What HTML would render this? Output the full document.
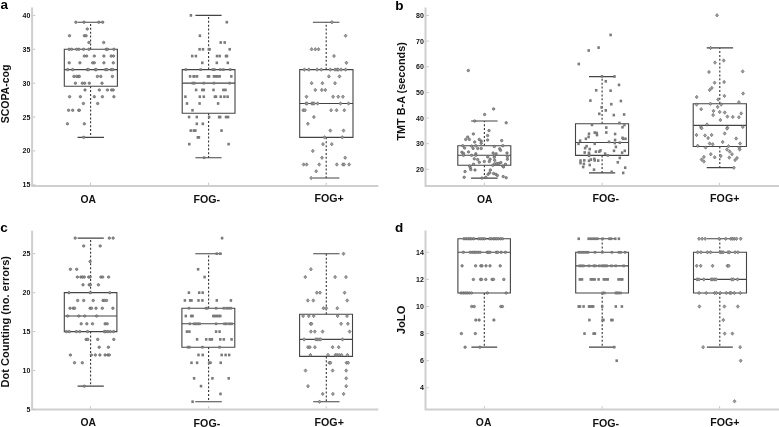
<!DOCTYPE html>
<html><head><meta charset="utf-8"><style>
html,body{margin:0;padding:0;background:#fff;}
body{width:779px;height:427px;overflow:hidden;}
svg{display:block;filter:blur(0.3px);}
text{font-family:"Liberation Sans",sans-serif;font-weight:bold;fill:#111;}
.tl{font-size:7px;text-anchor:end;fill:#111;}
.cl{font-size:11px;text-anchor:middle;}
.yt{text-anchor:middle;}
.pl{font-size:13.5px;fill:#000;}
.ax{fill:none;stroke:#cfcfcf;stroke-width:2;}
.tk{fill:none;stroke:#bdbdbd;stroke-width:0.9;}
.bx{fill:none;stroke:#444;stroke-width:1.1;}
.wh{fill:none;stroke:#333;stroke-width:1.1;stroke-dasharray:2 1.9;}
.mo circle{fill:#939393;stroke:#5a5a5a;stroke-width:0.6;}
.ms rect{fill:#7a7a7a;}
.md path{fill:#9c9c9c;stroke:#585858;stroke-width:0.55;}
</style></head><body>
<svg width="779" height="427" viewBox="0 0 779 427">
<path class="ax" d="M32.1 7.5V185.9H378.3"/>
<path class="ax" d="M425.5 7.5V186H779"/>
<path class="ax" d="M32.1 230.8V409.5H378.3"/>
<path class="ax" d="M425.5 230.5V409.5H779"/>
<path class="tk" d="M33.1 184.8h2.2"/>
<text class="tl" x="30.4" y="187.3">15</text>
<path class="tk" d="M33.1 150.92h2.2"/>
<text class="tl" x="30.4" y="153.42">20</text>
<path class="tk" d="M33.1 117.04h2.2"/>
<text class="tl" x="30.4" y="119.54">25</text>
<path class="tk" d="M33.1 83.16h2.2"/>
<text class="tl" x="30.4" y="85.66">30</text>
<path class="tk" d="M33.1 49.28h2.2"/>
<text class="tl" x="30.4" y="51.78">35</text>
<path class="tk" d="M33.1 15.4h2.2"/>
<text class="tl" x="30.4" y="17.9">40</text>
<path class="tk" d="M426.5 169.28h2.2"/>
<text class="tl" x="423.8" y="171.78">20</text>
<path class="tk" d="M426.5 143.65h2.2"/>
<text class="tl" x="423.8" y="146.15">30</text>
<path class="tk" d="M426.5 118.02h2.2"/>
<text class="tl" x="423.8" y="120.52">40</text>
<path class="tk" d="M426.5 92.39h2.2"/>
<text class="tl" x="423.8" y="94.89">50</text>
<path class="tk" d="M426.5 66.76h2.2"/>
<text class="tl" x="423.8" y="69.26">60</text>
<path class="tk" d="M426.5 41.13h2.2"/>
<text class="tl" x="423.8" y="43.63">70</text>
<path class="tk" d="M426.5 15.5h2.2"/>
<text class="tl" x="423.8" y="18">80</text>
<path class="tk" d="M33.1 409.5h2.2"/>
<text class="tl" x="30.4" y="412">5</text>
<path class="tk" d="M33.1 370.55h2.2"/>
<text class="tl" x="30.4" y="373.05">10</text>
<path class="tk" d="M33.1 331.6h2.2"/>
<text class="tl" x="30.4" y="334.1">15</text>
<path class="tk" d="M33.1 292.65h2.2"/>
<text class="tl" x="30.4" y="295.15">20</text>
<path class="tk" d="M33.1 253.7h2.2"/>
<text class="tl" x="30.4" y="256.2">25</text>
<path class="tk" d="M426.5 387.8h2.2"/>
<text class="tl" x="423.8" y="390.3">4</text>
<path class="tk" d="M426.5 360.7h2.2"/>
<text class="tl" x="423.8" y="363.2">6</text>
<path class="tk" d="M426.5 333.6h2.2"/>
<text class="tl" x="423.8" y="336.1">8</text>
<path class="tk" d="M426.5 306.5h2.2"/>
<text class="tl" x="423.8" y="309">10</text>
<path class="tk" d="M426.5 279.4h2.2"/>
<text class="tl" x="423.8" y="281.9">12</text>
<path class="tk" d="M426.5 252.3h2.2"/>
<text class="tl" x="423.8" y="254.8">14</text>
<path class="tk" d="M90.5 184.9v-2.2"/>
<path class="tk" d="M208.5 184.9v-2.2"/>
<path class="tk" d="M326.2 184.9v-2.2"/>
<path class="tk" d="M484.4 185v-2.2"/>
<path class="tk" d="M602.2 185v-2.2"/>
<path class="tk" d="M719.6 185v-2.2"/>
<path class="tk" d="M90.4 408.5v-2.2"/>
<path class="tk" d="M208.6 408.5v-2.2"/>
<path class="tk" d="M326.2 408.5v-2.2"/>
<path class="tk" d="M484.4 408.5v-2.2"/>
<path class="tk" d="M602.1 408.5v-2.2"/>
<path class="tk" d="M719.6 408.5v-2.2"/>
<path class="wh" d="M90.6 49.28V22.18"/>
<path class="wh" d="M90.6 86.21V137.37"/>
<path class="bx" d="M64.3 49.28H117.4V86.21H64.3Z"/>
<path class="bx" d="M64.3 69.61H117.4"/>
<path class="bx" d="M77.6 22.18H104M77.6 137.37H104"/>
<path class="wh" d="M208.6 69.61V15.4"/>
<path class="wh" d="M208.6 113.18V157.7"/>
<path class="bx" d="M182.2 69.61H235V113.18H182.2Z"/>
<path class="bx" d="M182.2 83.16H235"/>
<path class="bx" d="M195.4 15.4H221.6M195.4 157.7H221.6"/>
<path class="wh" d="M326.2 69.61V22.18"/>
<path class="wh" d="M326.2 137.37V178.02"/>
<path class="bx" d="M299.7 69.61H353V137.37H299.7Z"/>
<path class="bx" d="M299.7 103.49H353"/>
<path class="bx" d="M312.9 22.18H339.4M312.9 178.02H339.4"/>
<path class="wh" d="M484.4 145.7V121"/>
<path class="wh" d="M484.4 165.3V178.1"/>
<path class="bx" d="M457.8 145.7H510.8V165.3H457.8Z"/>
<path class="bx" d="M457.8 155.3H510.8"/>
<path class="bx" d="M471.1 121H497.6M471.1 178.1H497.6"/>
<path class="wh" d="M602.1 123.7V76.6"/>
<path class="wh" d="M602.1 155.4V172.9"/>
<path class="bx" d="M575.5 123.7H628.6V155.4H575.5Z"/>
<path class="bx" d="M575.5 142.5H628.6"/>
<path class="bx" d="M589 76.6H615.2M589 172.9H615.2"/>
<path class="wh" d="M719.8 103.7V47.9"/>
<path class="wh" d="M719.8 146.5V167.6"/>
<path class="bx" d="M693.2 103.7H746.4V146.5H693.2Z"/>
<path class="bx" d="M693.2 125.4H746.4"/>
<path class="bx" d="M706.7 47.9H733.1M706.7 167.6H733.1"/>
<path class="wh" d="M90.6 292.65V238.12"/>
<path class="wh" d="M90.6 331.6V386.13"/>
<path class="bx" d="M64.3 292.65H116.9V331.6H64.3Z"/>
<path class="bx" d="M64.3 316.02H116.9"/>
<path class="bx" d="M77.6 238.12H103.8M77.6 386.13H103.8"/>
<path class="wh" d="M208.6 308.23V253.7"/>
<path class="wh" d="M208.6 347.18V401.71"/>
<path class="bx" d="M181.9 308.23H234.8V347.18H181.9Z"/>
<path class="bx" d="M181.9 323.81H234.8"/>
<path class="bx" d="M195.3 253.7H221.8M195.3 401.71H221.8"/>
<path class="wh" d="M326.3 314.3V253.7"/>
<path class="wh" d="M326.3 356.4V401.71"/>
<path class="bx" d="M299.6 314.3H352.5V356.4H299.6Z"/>
<path class="bx" d="M299.6 339.39H352.5"/>
<path class="bx" d="M313.2 253.7H339.5M313.2 401.71H339.5"/>
<path class="wh" d="M484.3 292.95V347.15"/>
<path class="bx" d="M457.9 238.75H510.4V292.95H457.9Z"/>
<path class="bx" d="M457.9 252.3H510.4"/>
<path class="bx" d="M471.4 238.75H497.2M471.4 347.15H497.2"/>
<path class="wh" d="M602.2 252.3V238.75"/>
<path class="wh" d="M602.2 292.95V347.15"/>
<path class="bx" d="M575.7 252.3H628.5V292.95H575.7Z"/>
<path class="bx" d="M575.7 265.85H628.5"/>
<path class="bx" d="M589 238.75H615.3M589 347.15H615.3"/>
<path class="wh" d="M719.8 252.3V238.75"/>
<path class="wh" d="M719.8 292.95V347.15"/>
<path class="bx" d="M693.5 252.3H746.5V292.95H693.5Z"/>
<path class="bx" d="M693.5 279.4H746.5"/>
<path class="bx" d="M706.9 238.75H732.8M706.9 347.15H732.8"/>
<g class="mo"><circle cx="75.9" cy="22.18" r="1.25"/><circle cx="84" cy="22.18" r="1.25"/><circle cx="98.8" cy="22.18" r="1.25"/><circle cx="102.7" cy="22.18" r="1.25"/><circle cx="87.3" cy="28.95" r="1.25"/><circle cx="69.5" cy="35.73" r="1.25"/><circle cx="84.4" cy="35.73" r="1.25"/><circle cx="86.1" cy="35.73" r="1.25"/><circle cx="88.9" cy="42.5" r="1.25"/><circle cx="103.7" cy="42.5" r="1.25"/><circle cx="69.1" cy="49.28" r="1.25"/><circle cx="71.6" cy="49.28" r="1.25"/><circle cx="76.6" cy="49.28" r="1.25"/><circle cx="78.9" cy="49.28" r="1.25"/><circle cx="83.5" cy="49.28" r="1.25"/><circle cx="88.9" cy="49.28" r="1.25"/><circle cx="106.2" cy="49.28" r="1.25"/><circle cx="107.5" cy="49.28" r="1.25"/><circle cx="113.9" cy="49.28" r="1.25"/><circle cx="84.3" cy="56.06" r="1.25"/><circle cx="86.6" cy="56.06" r="1.25"/><circle cx="94.3" cy="56.06" r="1.25"/><circle cx="103.9" cy="56.06" r="1.25"/><circle cx="111.2" cy="56.06" r="1.25"/><circle cx="113.5" cy="56.06" r="1.25"/><circle cx="69.2" cy="62.83" r="1.25"/><circle cx="79.9" cy="62.83" r="1.25"/><circle cx="92.7" cy="62.83" r="1.25"/><circle cx="94.3" cy="62.83" r="1.25"/><circle cx="103.9" cy="62.83" r="1.25"/><circle cx="113.3" cy="62.83" r="1.25"/><circle cx="67.7" cy="69.61" r="1.25"/><circle cx="72.7" cy="69.61" r="1.25"/><circle cx="87.3" cy="69.61" r="1.25"/><circle cx="88.5" cy="69.61" r="1.25"/><circle cx="95.4" cy="69.61" r="1.25"/><circle cx="96.2" cy="69.61" r="1.25"/><circle cx="105.5" cy="69.61" r="1.25"/><circle cx="107" cy="69.61" r="1.25"/><circle cx="111.2" cy="69.61" r="1.25"/><circle cx="112.8" cy="69.61" r="1.25"/><circle cx="73.9" cy="76.38" r="1.25"/><circle cx="76.6" cy="76.38" r="1.25"/><circle cx="78.5" cy="76.38" r="1.25"/><circle cx="79.3" cy="76.38" r="1.25"/><circle cx="97.4" cy="76.38" r="1.25"/><circle cx="100.8" cy="76.38" r="1.25"/><circle cx="112.4" cy="76.38" r="1.25"/><circle cx="75.4" cy="83.16" r="1.25"/><circle cx="82.3" cy="83.16" r="1.25"/><circle cx="84.7" cy="83.16" r="1.25"/><circle cx="89.3" cy="83.16" r="1.25"/><circle cx="102" cy="83.16" r="1.25"/><circle cx="85" cy="89.94" r="1.25"/><circle cx="99.3" cy="89.94" r="1.25"/><circle cx="107.4" cy="89.94" r="1.25"/><circle cx="111.6" cy="89.94" r="1.25"/><circle cx="113.2" cy="89.94" r="1.25"/><circle cx="69.6" cy="96.71" r="1.25"/><circle cx="80.4" cy="96.71" r="1.25"/><circle cx="94.3" cy="96.71" r="1.25"/><circle cx="102.4" cy="96.71" r="1.25"/><circle cx="113.9" cy="96.71" r="1.25"/><circle cx="83.4" cy="103.49" r="1.25"/><circle cx="97.7" cy="103.49" r="1.25"/><circle cx="68.6" cy="110.26" r="1.25"/><circle cx="72.7" cy="110.26" r="1.25"/><circle cx="78.8" cy="110.26" r="1.25"/><circle cx="79.3" cy="110.26" r="1.25"/><circle cx="67.4" cy="123.82" r="1.25"/><circle cx="84.3" cy="123.82" r="1.25"/><circle cx="83.7" cy="137.37" r="1.25"/></g>
<g class="ms"><rect x="189.65" y="14.05" width="2.5" height="2.7"/><rect x="225.55" y="20.83" width="2.5" height="2.7"/><rect x="198.65" y="34.38" width="2.5" height="2.7"/><rect x="219.45" y="41.15" width="2.5" height="2.7"/><rect x="223.45" y="41.15" width="2.5" height="2.7"/><rect x="198.35" y="47.93" width="2.5" height="2.7"/><rect x="201.75" y="47.93" width="2.5" height="2.7"/><rect x="207.55" y="47.93" width="2.5" height="2.7"/><rect x="208.35" y="47.93" width="2.5" height="2.7"/><rect x="228.45" y="47.93" width="2.5" height="2.7"/><rect x="190.95" y="54.71" width="2.5" height="2.7"/><rect x="194.65" y="54.71" width="2.5" height="2.7"/><rect x="215.75" y="54.71" width="2.5" height="2.7"/><rect x="218.45" y="54.71" width="2.5" height="2.7"/><rect x="224.75" y="54.71" width="2.5" height="2.7"/><rect x="225.75" y="54.71" width="2.5" height="2.7"/><rect x="201.05" y="61.48" width="2.5" height="2.7"/><rect x="215.55" y="61.48" width="2.5" height="2.7"/><rect x="226.55" y="61.48" width="2.5" height="2.7"/><rect x="184.65" y="68.26" width="2.5" height="2.7"/><rect x="199.45" y="68.26" width="2.5" height="2.7"/><rect x="211.55" y="68.26" width="2.5" height="2.7"/><rect x="213.15" y="68.26" width="2.5" height="2.7"/><rect x="218.95" y="68.26" width="2.5" height="2.7"/><rect x="222.15" y="68.26" width="2.5" height="2.7"/><rect x="228.95" y="68.26" width="2.5" height="2.7"/><rect x="188.85" y="75.03" width="2.5" height="2.7"/><rect x="192.35" y="75.03" width="2.5" height="2.7"/><rect x="193.15" y="75.03" width="2.5" height="2.7"/><rect x="195.75" y="75.03" width="2.5" height="2.7"/><rect x="206.65" y="75.03" width="2.5" height="2.7"/><rect x="207.85" y="75.03" width="2.5" height="2.7"/><rect x="212.65" y="75.03" width="2.5" height="2.7"/><rect x="214.75" y="75.03" width="2.5" height="2.7"/><rect x="216.35" y="75.03" width="2.5" height="2.7"/><rect x="218.45" y="75.03" width="2.5" height="2.7"/><rect x="230.05" y="75.03" width="2.5" height="2.7"/><rect x="191.55" y="81.81" width="2.5" height="2.7"/><rect x="193.15" y="81.81" width="2.5" height="2.7"/><rect x="202.55" y="81.81" width="2.5" height="2.7"/><rect x="212.65" y="81.81" width="2.5" height="2.7"/><rect x="228.45" y="81.81" width="2.5" height="2.7"/><rect x="194.85" y="88.59" width="2.5" height="2.7"/><rect x="201.05" y="88.59" width="2.5" height="2.7"/><rect x="202.55" y="88.59" width="2.5" height="2.7"/><rect x="212.25" y="88.59" width="2.5" height="2.7"/><rect x="222.15" y="88.59" width="2.5" height="2.7"/><rect x="224.25" y="88.59" width="2.5" height="2.7"/><rect x="184.15" y="95.36" width="2.5" height="2.7"/><rect x="198.55" y="95.36" width="2.5" height="2.7"/><rect x="202.55" y="95.36" width="2.5" height="2.7"/><rect x="213.65" y="95.36" width="2.5" height="2.7"/><rect x="214.75" y="95.36" width="2.5" height="2.7"/><rect x="219.45" y="95.36" width="2.5" height="2.7"/><rect x="223.15" y="95.36" width="2.5" height="2.7"/><rect x="226.35" y="95.36" width="2.5" height="2.7"/><rect x="185.75" y="102.14" width="2.5" height="2.7"/><rect x="198.35" y="102.14" width="2.5" height="2.7"/><rect x="216.85" y="102.14" width="2.5" height="2.7"/><rect x="191.25" y="108.91" width="2.5" height="2.7"/><rect x="187.85" y="115.69" width="2.5" height="2.7"/><rect x="195.55" y="115.69" width="2.5" height="2.7"/><rect x="207.85" y="115.69" width="2.5" height="2.7"/><rect x="217.85" y="115.69" width="2.5" height="2.7"/><rect x="218.95" y="115.69" width="2.5" height="2.7"/><rect x="224.75" y="115.69" width="2.5" height="2.7"/><rect x="226.85" y="115.69" width="2.5" height="2.7"/><rect x="195.55" y="122.47" width="2.5" height="2.7"/><rect x="201.55" y="122.47" width="2.5" height="2.7"/><rect x="189.45" y="129.24" width="2.5" height="2.7"/><rect x="192.55" y="129.24" width="2.5" height="2.7"/><rect x="194.15" y="129.24" width="2.5" height="2.7"/><rect x="220.25" y="129.24" width="2.5" height="2.7"/><rect x="196.55" y="136.02" width="2.5" height="2.7"/><rect x="197.65" y="136.02" width="2.5" height="2.7"/><rect x="188.05" y="142.79" width="2.5" height="2.7"/><rect x="227.35" y="142.79" width="2.5" height="2.7"/><rect x="202.95" y="156.35" width="2.5" height="2.7"/></g>
<g class="md"><path d="M331.9 20.43l1.5 1.75l-1.5 1.75l-1.5-1.75z"/><path d="M345.6 33.98l1.5 1.75l-1.5 1.75l-1.5-1.75z"/><path d="M311.6 47.53l1.5 1.75l-1.5 1.75l-1.5-1.75z"/><path d="M315.3 47.53l1.5 1.75l-1.5 1.75l-1.5-1.75z"/><path d="M318.5 47.53l1.5 1.75l-1.5 1.75l-1.5-1.75z"/><path d="M334 54.31l1.5 1.75l-1.5 1.75l-1.5-1.75z"/><path d="M346.4 61.08l1.5 1.75l-1.5 1.75l-1.5-1.75z"/><path d="M304.4 67.86l1.5 1.75l-1.5 1.75l-1.5-1.75z"/><path d="M308.9 67.86l1.5 1.75l-1.5 1.75l-1.5-1.75z"/><path d="M317.1 67.86l1.5 1.75l-1.5 1.75l-1.5-1.75z"/><path d="M321.3 67.86l1.5 1.75l-1.5 1.75l-1.5-1.75z"/><path d="M330.3 67.86l1.5 1.75l-1.5 1.75l-1.5-1.75z"/><path d="M335 67.86l1.5 1.75l-1.5 1.75l-1.5-1.75z"/><path d="M337.1 67.86l1.5 1.75l-1.5 1.75l-1.5-1.75z"/><path d="M338.2 67.86l1.5 1.75l-1.5 1.75l-1.5-1.75z"/><path d="M341.1 67.86l1.5 1.75l-1.5 1.75l-1.5-1.75z"/><path d="M345.6 67.86l1.5 1.75l-1.5 1.75l-1.5-1.75z"/><path d="M328.9 74.63l1.5 1.75l-1.5 1.75l-1.5-1.75z"/><path d="M339.5 74.63l1.5 1.75l-1.5 1.75l-1.5-1.75z"/><path d="M311.6 81.41l1.5 1.75l-1.5 1.75l-1.5-1.75z"/><path d="M322.4 81.41l1.5 1.75l-1.5 1.75l-1.5-1.75z"/><path d="M335 81.41l1.5 1.75l-1.5 1.75l-1.5-1.75z"/><path d="M315.3 88.19l1.5 1.75l-1.5 1.75l-1.5-1.75z"/><path d="M321.8 88.19l1.5 1.75l-1.5 1.75l-1.5-1.75z"/><path d="M325.3 88.19l1.5 1.75l-1.5 1.75l-1.5-1.75z"/><path d="M306.5 94.96l1.5 1.75l-1.5 1.75l-1.5-1.75z"/><path d="M333.1 94.96l1.5 1.75l-1.5 1.75l-1.5-1.75z"/><path d="M338.2 94.96l1.5 1.75l-1.5 1.75l-1.5-1.75z"/><path d="M342.9 94.96l1.5 1.75l-1.5 1.75l-1.5-1.75z"/><path d="M306 101.74l1.5 1.75l-1.5 1.75l-1.5-1.75z"/><path d="M307.1 101.74l1.5 1.75l-1.5 1.75l-1.5-1.75z"/><path d="M311.8 101.74l1.5 1.75l-1.5 1.75l-1.5-1.75z"/><path d="M312.9 101.74l1.5 1.75l-1.5 1.75l-1.5-1.75z"/><path d="M314.1 101.74l1.5 1.75l-1.5 1.75l-1.5-1.75z"/><path d="M317.6 101.74l1.5 1.75l-1.5 1.75l-1.5-1.75z"/><path d="M340.5 101.74l1.5 1.75l-1.5 1.75l-1.5-1.75z"/><path d="M348.5 101.74l1.5 1.75l-1.5 1.75l-1.5-1.75z"/><path d="M303.2 108.51l1.5 1.75l-1.5 1.75l-1.5-1.75z"/><path d="M305 108.51l1.5 1.75l-1.5 1.75l-1.5-1.75z"/><path d="M331.1 108.51l1.5 1.75l-1.5 1.75l-1.5-1.75z"/><path d="M336.6 108.51l1.5 1.75l-1.5 1.75l-1.5-1.75z"/><path d="M344.3 108.51l1.5 1.75l-1.5 1.75l-1.5-1.75z"/><path d="M313.9 115.29l1.5 1.75l-1.5 1.75l-1.5-1.75z"/><path d="M307.9 122.07l1.5 1.75l-1.5 1.75l-1.5-1.75z"/><path d="M330.3 128.84l1.5 1.75l-1.5 1.75l-1.5-1.75z"/><path d="M343.5 128.84l1.5 1.75l-1.5 1.75l-1.5-1.75z"/><path d="M324.5 135.62l1.5 1.75l-1.5 1.75l-1.5-1.75z"/><path d="M342.3 135.62l1.5 1.75l-1.5 1.75l-1.5-1.75z"/><path d="M323 142.39l1.5 1.75l-1.5 1.75l-1.5-1.75z"/><path d="M331.8 142.39l1.5 1.75l-1.5 1.75l-1.5-1.75z"/><path d="M312.8 149.17l1.5 1.75l-1.5 1.75l-1.5-1.75z"/><path d="M322 155.95l1.5 1.75l-1.5 1.75l-1.5-1.75z"/><path d="M345.2 155.95l1.5 1.75l-1.5 1.75l-1.5-1.75z"/><path d="M303.6 162.72l1.5 1.75l-1.5 1.75l-1.5-1.75z"/><path d="M306.6 162.72l1.5 1.75l-1.5 1.75l-1.5-1.75z"/><path d="M319.2 162.72l1.5 1.75l-1.5 1.75l-1.5-1.75z"/><path d="M336.8 162.72l1.5 1.75l-1.5 1.75l-1.5-1.75z"/><path d="M342.9 162.72l1.5 1.75l-1.5 1.75l-1.5-1.75z"/><path d="M344.1 162.72l1.5 1.75l-1.5 1.75l-1.5-1.75z"/><path d="M349.1 162.72l1.5 1.75l-1.5 1.75l-1.5-1.75z"/><path d="M316.2 169.5l1.5 1.75l-1.5 1.75l-1.5-1.75z"/><path d="M311.2 176.27l1.5 1.75l-1.5 1.75l-1.5-1.75z"/></g>
<g class="mo"><circle cx="468.3" cy="70.5" r="1.25"/><circle cx="493.6" cy="108.9" r="1.25"/><circle cx="484.6" cy="114.5" r="1.25"/><circle cx="474.7" cy="121" r="1.25"/><circle cx="506.2" cy="122.8" r="1.25"/><circle cx="489" cy="130.6" r="1.25"/><circle cx="473.4" cy="133.9" r="1.25"/><circle cx="487.6" cy="135.5" r="1.25"/><circle cx="467.7" cy="137.1" r="1.25"/><circle cx="465.7" cy="139.4" r="1.25"/><circle cx="469.3" cy="139.4" r="1.25"/><circle cx="479.2" cy="139.4" r="1.25"/><circle cx="487.6" cy="140" r="1.25"/><circle cx="501.7" cy="140.6" r="1.25"/><circle cx="481.2" cy="141.1" r="1.25"/><circle cx="474.7" cy="142" r="1.25"/><circle cx="481.2" cy="143.3" r="1.25"/><circle cx="462.7" cy="145.7" r="1.25"/><circle cx="464.6" cy="148" r="1.25"/><circle cx="471.6" cy="146.1" r="1.25"/><circle cx="473.1" cy="148.4" r="1.25"/><circle cx="475.8" cy="145.7" r="1.25"/><circle cx="477.7" cy="148.4" r="1.25"/><circle cx="481.2" cy="148.4" r="1.25"/><circle cx="494.3" cy="146.5" r="1.25"/><circle cx="499.7" cy="148.8" r="1.25"/><circle cx="500.5" cy="150.3" r="1.25"/><circle cx="502.8" cy="145.7" r="1.25"/><circle cx="461.9" cy="152.2" r="1.25"/><circle cx="463.5" cy="153.4" r="1.25"/><circle cx="468.5" cy="151.9" r="1.25"/><circle cx="475.8" cy="153.8" r="1.25"/><circle cx="463.5" cy="155.3" r="1.25"/><circle cx="471.6" cy="155.3" r="1.25"/><circle cx="475.8" cy="155.3" r="1.25"/><circle cx="493.1" cy="153" r="1.25"/><circle cx="496.2" cy="153.8" r="1.25"/><circle cx="494.3" cy="155.7" r="1.25"/><circle cx="507" cy="153" r="1.25"/><circle cx="487.7" cy="156.9" r="1.25"/><circle cx="494.3" cy="157.3" r="1.25"/><circle cx="507.4" cy="156.5" r="1.25"/><circle cx="474.3" cy="158.8" r="1.25"/><circle cx="477.7" cy="159.6" r="1.25"/><circle cx="490.1" cy="159.2" r="1.25"/><circle cx="507.4" cy="159.2" r="1.25"/><circle cx="479.3" cy="162.3" r="1.25"/><circle cx="484.3" cy="161.5" r="1.25"/><circle cx="489.3" cy="161.5" r="1.25"/><circle cx="494.7" cy="160.3" r="1.25"/><circle cx="473.5" cy="164.2" r="1.25"/><circle cx="492.8" cy="165.3" r="1.25"/><circle cx="494.7" cy="163.8" r="1.25"/><circle cx="497" cy="163.4" r="1.25"/><circle cx="498.9" cy="163.4" r="1.25"/><circle cx="500.8" cy="162.6" r="1.25"/><circle cx="505.5" cy="164.2" r="1.25"/><circle cx="469.6" cy="166.1" r="1.25"/><circle cx="502.8" cy="166.1" r="1.25"/><circle cx="470.4" cy="167.7" r="1.25"/><circle cx="470.8" cy="169.6" r="1.25"/><circle cx="475" cy="170" r="1.25"/><circle cx="465" cy="171.6" r="1.25"/><circle cx="490.4" cy="170" r="1.25"/><circle cx="489.7" cy="172.7" r="1.25"/><circle cx="488.1" cy="174.3" r="1.25"/><circle cx="493.5" cy="173.5" r="1.25"/><circle cx="495.8" cy="174.3" r="1.25"/><circle cx="497.4" cy="175.4" r="1.25"/><circle cx="464.2" cy="177.3" r="1.25"/><circle cx="482" cy="178.1" r="1.25"/><circle cx="485.8" cy="177.3" r="1.25"/><circle cx="503.2" cy="176.6" r="1.25"/><circle cx="506.2" cy="177.7" r="1.25"/><circle cx="503.5" cy="166.9" r="1.25"/></g>
<g class="ms"><rect x="609.35" y="33.55" width="2.5" height="2.7"/><rect x="597.35" y="46.25" width="2.5" height="2.7"/><rect x="587.45" y="49.15" width="2.5" height="2.7"/><rect x="577.55" y="62.65" width="2.5" height="2.7"/><rect x="600.75" y="75.05" width="2.5" height="2.7"/><rect x="613.25" y="75.15" width="2.5" height="2.7"/><rect x="604.55" y="79.95" width="2.5" height="2.7"/><rect x="617.75" y="83.55" width="2.5" height="2.7"/><rect x="594.95" y="88.95" width="2.5" height="2.7"/><rect x="609.35" y="89.35" width="2.5" height="2.7"/><rect x="589.15" y="99.25" width="2.5" height="2.7"/><rect x="619.65" y="99.65" width="2.5" height="2.7"/><rect x="610.05" y="102.85" width="2.5" height="2.7"/><rect x="600.35" y="106.05" width="2.5" height="2.7"/><rect x="604.55" y="109.05" width="2.5" height="2.7"/><rect x="598.05" y="112.45" width="2.5" height="2.7"/><rect x="612.55" y="113.75" width="2.5" height="2.7"/><rect x="622.85" y="113.15" width="2.5" height="2.7"/><rect x="590.75" y="123.55" width="2.5" height="2.7"/><rect x="618.15" y="121.65" width="2.5" height="2.7"/><rect x="623.15" y="123.55" width="2.5" height="2.7"/><rect x="605.05" y="126.25" width="2.5" height="2.7"/><rect x="621.25" y="125.85" width="2.5" height="2.7"/><rect x="605.05" y="131.15" width="2.5" height="2.7"/><rect x="587.75" y="132.45" width="2.5" height="2.7"/><rect x="593.45" y="131.25" width="2.5" height="2.7"/><rect x="595.45" y="131.65" width="2.5" height="2.7"/><rect x="595.75" y="133.65" width="2.5" height="2.7"/><rect x="613.85" y="132.65" width="2.5" height="2.7"/><rect x="587.35" y="135.55" width="2.5" height="2.7"/><rect x="584.65" y="137.45" width="2.5" height="2.7"/><rect x="621.25" y="136.55" width="2.5" height="2.7"/><rect x="621.95" y="137.45" width="2.5" height="2.7"/><rect x="624.25" y="137.45" width="2.5" height="2.7"/><rect x="613.85" y="138.65" width="2.5" height="2.7"/><rect x="578.85" y="139.35" width="2.5" height="2.7"/><rect x="577.25" y="142.45" width="2.5" height="2.7"/><rect x="607.75" y="140.55" width="2.5" height="2.7"/><rect x="613.55" y="141.65" width="2.5" height="2.7"/><rect x="618.55" y="141.35" width="2.5" height="2.7"/><rect x="593.45" y="142.45" width="2.5" height="2.7"/><rect x="585.35" y="144.85" width="2.5" height="2.7"/><rect x="583.85" y="146.75" width="2.5" height="2.7"/><rect x="588.45" y="147.75" width="2.5" height="2.7"/><rect x="614.65" y="145.55" width="2.5" height="2.7"/><rect x="599.25" y="149.05" width="2.5" height="2.7"/><rect x="598.05" y="150.25" width="2.5" height="2.7"/><rect x="594.65" y="150.35" width="2.5" height="2.7"/><rect x="612.75" y="149.45" width="2.5" height="2.7"/><rect x="623.55" y="149.45" width="2.5" height="2.7"/><rect x="620.85" y="151.35" width="2.5" height="2.7"/><rect x="583.45" y="151.15" width="2.5" height="2.7"/><rect x="587.75" y="151.55" width="2.5" height="2.7"/><rect x="587.75" y="152.95" width="2.5" height="2.7"/><rect x="603.85" y="152.35" width="2.5" height="2.7"/><rect x="606.55" y="154.05" width="2.5" height="2.7"/><rect x="587.75" y="154.45" width="2.5" height="2.7"/><rect x="618.55" y="156.55" width="2.5" height="2.7"/><rect x="579.25" y="159.25" width="2.5" height="2.7"/><rect x="583.05" y="159.05" width="2.5" height="2.7"/><rect x="587.75" y="159.45" width="2.5" height="2.7"/><rect x="589.65" y="158.25" width="2.5" height="2.7"/><rect x="593.05" y="157.55" width="2.5" height="2.7"/><rect x="593.45" y="159.05" width="2.5" height="2.7"/><rect x="596.95" y="159.25" width="2.5" height="2.7"/><rect x="579.25" y="161.75" width="2.5" height="2.7"/><rect x="582.65" y="162.55" width="2.5" height="2.7"/><rect x="588.45" y="163.65" width="2.5" height="2.7"/><rect x="616.55" y="160.95" width="2.5" height="2.7"/><rect x="581.95" y="165.65" width="2.5" height="2.7"/><rect x="592.75" y="168.35" width="2.5" height="2.7"/><rect x="623.95" y="166.35" width="2.5" height="2.7"/><rect x="610.45" y="170.55" width="2.5" height="2.7"/><rect x="621.95" y="171.55" width="2.5" height="2.7"/></g>
<g class="md"><path d="M717 13.55l1.5 1.75l-1.5 1.75l-1.5-1.75z"/><path d="M710.6 46.15l1.5 1.75l-1.5 1.75l-1.5-1.75z"/><path d="M723.7 58.75l1.5 1.75l-1.5 1.75l-1.5-1.75z"/><path d="M715 60.85l1.5 1.75l-1.5 1.75l-1.5-1.75z"/><path d="M709 70.25l1.5 1.75l-1.5 1.75l-1.5-1.75z"/><path d="M742.7 69.65l1.5 1.75l-1.5 1.75l-1.5-1.75z"/><path d="M714.6 80.95l1.5 1.75l-1.5 1.75l-1.5-1.75z"/><path d="M724.1 80.25l1.5 1.75l-1.5 1.75l-1.5-1.75z"/><path d="M711.8 86.15l1.5 1.75l-1.5 1.75l-1.5-1.75z"/><path d="M709.7 88.25l1.5 1.75l-1.5 1.75l-1.5-1.75z"/><path d="M696.7 95.25l1.5 1.75l-1.5 1.75l-1.5-1.75z"/><path d="M724.4 94.15l1.5 1.75l-1.5 1.75l-1.5-1.75z"/><path d="M743.1 91.75l1.5 1.75l-1.5 1.75l-1.5-1.75z"/><path d="M718.1 97.75l1.5 1.75l-1.5 1.75l-1.5-1.75z"/><path d="M696.6 102.85l1.5 1.75l-1.5 1.75l-1.5-1.75z"/><path d="M710.4 102.05l1.5 1.75l-1.5 1.75l-1.5-1.75z"/><path d="M721.2 102.75l1.5 1.75l-1.5 1.75l-1.5-1.75z"/><path d="M738.9 100.45l1.5 1.75l-1.5 1.75l-1.5-1.75z"/><path d="M701.2 107.45l1.5 1.75l-1.5 1.75l-1.5-1.75z"/><path d="M717.7 105.15l1.5 1.75l-1.5 1.75l-1.5-1.75z"/><path d="M713.5 109.15l1.5 1.75l-1.5 1.75l-1.5-1.75z"/><path d="M719.7 110.15l1.5 1.75l-1.5 1.75l-1.5-1.75z"/><path d="M724.7 110.75l1.5 1.75l-1.5 1.75l-1.5-1.75z"/><path d="M741.2 111.65l1.5 1.75l-1.5 1.75l-1.5-1.75z"/><path d="M713.1 113.35l1.5 1.75l-1.5 1.75l-1.5-1.75z"/><path d="M727.4 114.85l1.5 1.75l-1.5 1.75l-1.5-1.75z"/><path d="M732.8 115.15l1.5 1.75l-1.5 1.75l-1.5-1.75z"/><path d="M738.9 115.55l1.5 1.75l-1.5 1.75l-1.5-1.75z"/><path d="M720.4 118.25l1.5 1.75l-1.5 1.75l-1.5-1.75z"/><path d="M707 122.85l1.5 1.75l-1.5 1.75l-1.5-1.75z"/><path d="M700.8 125.15l1.5 1.75l-1.5 1.75l-1.5-1.75z"/><path d="M727.4 125.95l1.5 1.75l-1.5 1.75l-1.5-1.75z"/><path d="M742.8 125.15l1.5 1.75l-1.5 1.75l-1.5-1.75z"/><path d="M701.6 126.55l1.5 1.75l-1.5 1.75l-1.5-1.75z"/><path d="M727 126.85l1.5 1.75l-1.5 1.75l-1.5-1.75z"/><path d="M696.5 133.25l1.5 1.75l-1.5 1.75l-1.5-1.75z"/><path d="M705 133.65l1.5 1.75l-1.5 1.75l-1.5-1.75z"/><path d="M711.6 133.25l1.5 1.75l-1.5 1.75l-1.5-1.75z"/><path d="M724.7 131.75l1.5 1.75l-1.5 1.75l-1.5-1.75z"/><path d="M708.1 136.35l1.5 1.75l-1.5 1.75l-1.5-1.75z"/><path d="M736.2 136.75l1.5 1.75l-1.5 1.75l-1.5-1.75z"/><path d="M722.7 140.25l1.5 1.75l-1.5 1.75l-1.5-1.75z"/><path d="M709.6 141.75l1.5 1.75l-1.5 1.75l-1.5-1.75z"/><path d="M712.7 142.55l1.5 1.75l-1.5 1.75l-1.5-1.75z"/><path d="M740.1 141.75l1.5 1.75l-1.5 1.75l-1.5-1.75z"/><path d="M697.7 144.05l1.5 1.75l-1.5 1.75l-1.5-1.75z"/><path d="M728.5 144.45l1.5 1.75l-1.5 1.75l-1.5-1.75z"/><path d="M705.6 145.75l1.5 1.75l-1.5 1.75l-1.5-1.75z"/><path d="M739.3 145.95l1.5 1.75l-1.5 1.75l-1.5-1.75z"/><path d="M727 147.75l1.5 1.75l-1.5 1.75l-1.5-1.75z"/><path d="M739.7 147.75l1.5 1.75l-1.5 1.75l-1.5-1.75z"/><path d="M729.7 149.75l1.5 1.75l-1.5 1.75l-1.5-1.75z"/><path d="M732 152.45l1.5 1.75l-1.5 1.75l-1.5-1.75z"/><path d="M710.8 152.45l1.5 1.75l-1.5 1.75l-1.5-1.75z"/><path d="M720.8 154.25l1.5 1.75l-1.5 1.75l-1.5-1.75z"/><path d="M703.9 155.15l1.5 1.75l-1.5 1.75l-1.5-1.75z"/><path d="M714.7 155.55l1.5 1.75l-1.5 1.75l-1.5-1.75z"/><path d="M729.3 155.85l1.5 1.75l-1.5 1.75l-1.5-1.75z"/><path d="M701.6 157.85l1.5 1.75l-1.5 1.75l-1.5-1.75z"/><path d="M703.9 159.75l1.5 1.75l-1.5 1.75l-1.5-1.75z"/><path d="M737 156.25l1.5 1.75l-1.5 1.75l-1.5-1.75z"/><path d="M735.1 158.35l1.5 1.75l-1.5 1.75l-1.5-1.75z"/><path d="M733.9 165.95l1.5 1.75l-1.5 1.75l-1.5-1.75z"/></g>
<g class="mo"><circle cx="75.2" cy="238.12" r="1.25"/><circle cx="109.3" cy="238.12" r="1.25"/><circle cx="113.1" cy="238.12" r="1.25"/><circle cx="83.7" cy="245.91" r="1.25"/><circle cx="100.2" cy="245.91" r="1.25"/><circle cx="90.1" cy="261.49" r="1.25"/><circle cx="70.4" cy="269.28" r="1.25"/><circle cx="76.7" cy="269.28" r="1.25"/><circle cx="77.4" cy="277.07" r="1.25"/><circle cx="80.9" cy="277.07" r="1.25"/><circle cx="82.6" cy="277.07" r="1.25"/><circle cx="84.3" cy="277.07" r="1.25"/><circle cx="88.7" cy="277.07" r="1.25"/><circle cx="90.1" cy="277.07" r="1.25"/><circle cx="100.9" cy="277.07" r="1.25"/><circle cx="102.7" cy="277.07" r="1.25"/><circle cx="108.6" cy="277.07" r="1.25"/><circle cx="83" cy="284.86" r="1.25"/><circle cx="89.2" cy="284.86" r="1.25"/><circle cx="90.3" cy="284.86" r="1.25"/><circle cx="98.4" cy="284.86" r="1.25"/><circle cx="69" cy="292.65" r="1.25"/><circle cx="90.3" cy="292.65" r="1.25"/><circle cx="109.8" cy="292.65" r="1.25"/><circle cx="77.7" cy="300.44" r="1.25"/><circle cx="83.7" cy="300.44" r="1.25"/><circle cx="93.2" cy="300.44" r="1.25"/><circle cx="103" cy="300.44" r="1.25"/><circle cx="104.4" cy="300.44" r="1.25"/><circle cx="106.5" cy="300.44" r="1.25"/><circle cx="70" cy="308.23" r="1.25"/><circle cx="73.2" cy="308.23" r="1.25"/><circle cx="74.6" cy="308.23" r="1.25"/><circle cx="90.1" cy="308.23" r="1.25"/><circle cx="91.5" cy="308.23" r="1.25"/><circle cx="96" cy="308.23" r="1.25"/><circle cx="102.3" cy="308.23" r="1.25"/><circle cx="112.9" cy="308.23" r="1.25"/><circle cx="67.6" cy="316.02" r="1.25"/><circle cx="78.8" cy="316.02" r="1.25"/><circle cx="84.7" cy="316.02" r="1.25"/><circle cx="96.7" cy="316.02" r="1.25"/><circle cx="81.2" cy="323.81" r="1.25"/><circle cx="86.8" cy="323.81" r="1.25"/><circle cx="92.5" cy="323.81" r="1.25"/><circle cx="105.1" cy="323.81" r="1.25"/><circle cx="107.2" cy="323.81" r="1.25"/><circle cx="66.4" cy="331.6" r="1.25"/><circle cx="69.3" cy="331.6" r="1.25"/><circle cx="76.3" cy="331.6" r="1.25"/><circle cx="79.8" cy="331.6" r="1.25"/><circle cx="87.5" cy="331.6" r="1.25"/><circle cx="104.4" cy="331.6" r="1.25"/><circle cx="105.8" cy="331.6" r="1.25"/><circle cx="107.9" cy="331.6" r="1.25"/><circle cx="110.3" cy="331.6" r="1.25"/><circle cx="113.6" cy="331.6" r="1.25"/><circle cx="86.1" cy="339.39" r="1.25"/><circle cx="87.8" cy="339.39" r="1.25"/><circle cx="97.7" cy="339.39" r="1.25"/><circle cx="113.8" cy="339.39" r="1.25"/><circle cx="99.2" cy="347.18" r="1.25"/><circle cx="108.4" cy="347.18" r="1.25"/><circle cx="70.4" cy="354.97" r="1.25"/><circle cx="91.3" cy="354.97" r="1.25"/><circle cx="95.3" cy="354.97" r="1.25"/><circle cx="99.9" cy="354.97" r="1.25"/><circle cx="105.1" cy="354.97" r="1.25"/><circle cx="107.9" cy="354.97" r="1.25"/><circle cx="109.3" cy="354.97" r="1.25"/><circle cx="74.5" cy="362.76" r="1.25"/><circle cx="82.3" cy="362.76" r="1.25"/><circle cx="84.3" cy="386.13" r="1.25"/></g>
<g class="ms"><rect x="220.85" y="236.77" width="2.5" height="2.7"/><rect x="215.55" y="252.35" width="2.5" height="2.7"/><rect x="219.05" y="252.35" width="2.5" height="2.7"/><rect x="196.85" y="267.93" width="2.5" height="2.7"/><rect x="203.35" y="275.72" width="2.5" height="2.7"/><rect x="187.65" y="291.3" width="2.5" height="2.7"/><rect x="197.95" y="291.3" width="2.5" height="2.7"/><rect x="201.45" y="291.3" width="2.5" height="2.7"/><rect x="183.65" y="299.09" width="2.5" height="2.7"/><rect x="188.85" y="299.09" width="2.5" height="2.7"/><rect x="190.25" y="299.09" width="2.5" height="2.7"/><rect x="197.25" y="299.09" width="2.5" height="2.7"/><rect x="201.15" y="299.09" width="2.5" height="2.7"/><rect x="215.55" y="299.09" width="2.5" height="2.7"/><rect x="229.65" y="299.09" width="2.5" height="2.7"/><rect x="187.65" y="306.88" width="2.5" height="2.7"/><rect x="204.75" y="306.88" width="2.5" height="2.7"/><rect x="205.95" y="306.88" width="2.5" height="2.7"/><rect x="214.85" y="306.88" width="2.5" height="2.7"/><rect x="222.55" y="306.88" width="2.5" height="2.7"/><rect x="225.35" y="306.88" width="2.5" height="2.7"/><rect x="227.45" y="306.88" width="2.5" height="2.7"/><rect x="229.65" y="306.88" width="2.5" height="2.7"/><rect x="184.55" y="314.67" width="2.5" height="2.7"/><rect x="189.95" y="314.67" width="2.5" height="2.7"/><rect x="191.35" y="314.67" width="2.5" height="2.7"/><rect x="212.05" y="314.67" width="2.5" height="2.7"/><rect x="213.85" y="314.67" width="2.5" height="2.7"/><rect x="215.55" y="314.67" width="2.5" height="2.7"/><rect x="217.35" y="314.67" width="2.5" height="2.7"/><rect x="219.05" y="314.67" width="2.5" height="2.7"/><rect x="188.55" y="322.46" width="2.5" height="2.7"/><rect x="192.75" y="322.46" width="2.5" height="2.7"/><rect x="194.45" y="322.46" width="2.5" height="2.7"/><rect x="196.55" y="322.46" width="2.5" height="2.7"/><rect x="198.35" y="322.46" width="2.5" height="2.7"/><rect x="214.85" y="322.46" width="2.5" height="2.7"/><rect x="223.25" y="322.46" width="2.5" height="2.7"/><rect x="225.15" y="322.46" width="2.5" height="2.7"/><rect x="228.15" y="322.46" width="2.5" height="2.7"/><rect x="230.35" y="322.46" width="2.5" height="2.7"/><rect x="185.75" y="330.25" width="2.5" height="2.7"/><rect x="188.15" y="330.25" width="2.5" height="2.7"/><rect x="214.85" y="330.25" width="2.5" height="2.7"/><rect x="218.35" y="330.25" width="2.5" height="2.7"/><rect x="195.85" y="338.04" width="2.5" height="2.7"/><rect x="204.95" y="338.04" width="2.5" height="2.7"/><rect x="208.55" y="338.04" width="2.5" height="2.7"/><rect x="210.65" y="338.04" width="2.5" height="2.7"/><rect x="219.05" y="338.04" width="2.5" height="2.7"/><rect x="222.55" y="338.04" width="2.5" height="2.7"/><rect x="230.35" y="338.04" width="2.5" height="2.7"/><rect x="186.75" y="345.83" width="2.5" height="2.7"/><rect x="188.15" y="345.83" width="2.5" height="2.7"/><rect x="201.15" y="345.83" width="2.5" height="2.7"/><rect x="218.35" y="345.83" width="2.5" height="2.7"/><rect x="197.25" y="353.62" width="2.5" height="2.7"/><rect x="201.45" y="353.62" width="2.5" height="2.7"/><rect x="220.45" y="353.62" width="2.5" height="2.7"/><rect x="224.35" y="353.62" width="2.5" height="2.7"/><rect x="227.95" y="353.62" width="2.5" height="2.7"/><rect x="190.25" y="361.41" width="2.5" height="2.7"/><rect x="195.85" y="361.41" width="2.5" height="2.7"/><rect x="207.85" y="361.41" width="2.5" height="2.7"/><rect x="209.25" y="361.41" width="2.5" height="2.7"/><rect x="219.45" y="361.41" width="2.5" height="2.7"/><rect x="192.85" y="376.99" width="2.5" height="2.7"/><rect x="211.15" y="376.99" width="2.5" height="2.7"/><rect x="227.45" y="376.99" width="2.5" height="2.7"/><rect x="199.75" y="384.78" width="2.5" height="2.7"/><rect x="219.25" y="392.57" width="2.5" height="2.7"/><rect x="191.35" y="400.36" width="2.5" height="2.7"/></g>
<g class="md"><path d="M343.5 251.95l1.5 1.75l-1.5 1.75l-1.5-1.75z"/><path d="M310.9 267.53l1.5 1.75l-1.5 1.75l-1.5-1.75z"/><path d="M305.3 275.32l1.5 1.75l-1.5 1.75l-1.5-1.75z"/><path d="M335.1 275.32l1.5 1.75l-1.5 1.75l-1.5-1.75z"/><path d="M346 275.32l1.5 1.75l-1.5 1.75l-1.5-1.75z"/><path d="M316.8 290.9l1.5 1.75l-1.5 1.75l-1.5-1.75z"/><path d="M320 290.9l1.5 1.75l-1.5 1.75l-1.5-1.75z"/><path d="M344.6 290.9l1.5 1.75l-1.5 1.75l-1.5-1.75z"/><path d="M307.8 298.69l1.5 1.75l-1.5 1.75l-1.5-1.75z"/><path d="M313.3 298.69l1.5 1.75l-1.5 1.75l-1.5-1.75z"/><path d="M347.2 298.69l1.5 1.75l-1.5 1.75l-1.5-1.75z"/><path d="M323.5 306.48l1.5 1.75l-1.5 1.75l-1.5-1.75z"/><path d="M326.3 306.48l1.5 1.75l-1.5 1.75l-1.5-1.75z"/><path d="M337.3 306.48l1.5 1.75l-1.5 1.75l-1.5-1.75z"/><path d="M303.1 314.27l1.5 1.75l-1.5 1.75l-1.5-1.75z"/><path d="M308.8 314.27l1.5 1.75l-1.5 1.75l-1.5-1.75z"/><path d="M313.7 314.27l1.5 1.75l-1.5 1.75l-1.5-1.75z"/><path d="M337.6 314.27l1.5 1.75l-1.5 1.75l-1.5-1.75z"/><path d="M347 314.27l1.5 1.75l-1.5 1.75l-1.5-1.75z"/><path d="M310.6 322.06l1.5 1.75l-1.5 1.75l-1.5-1.75z"/><path d="M311.6 322.06l1.5 1.75l-1.5 1.75l-1.5-1.75z"/><path d="M341.1 322.06l1.5 1.75l-1.5 1.75l-1.5-1.75z"/><path d="M347.9 322.06l1.5 1.75l-1.5 1.75l-1.5-1.75z"/><path d="M310.9 329.85l1.5 1.75l-1.5 1.75l-1.5-1.75z"/><path d="M314.8 329.85l1.5 1.75l-1.5 1.75l-1.5-1.75z"/><path d="M322.6 329.85l1.5 1.75l-1.5 1.75l-1.5-1.75z"/><path d="M349.6 329.85l1.5 1.75l-1.5 1.75l-1.5-1.75z"/><path d="M304.1 337.64l1.5 1.75l-1.5 1.75l-1.5-1.75z"/><path d="M315.8 337.64l1.5 1.75l-1.5 1.75l-1.5-1.75z"/><path d="M317.2 337.64l1.5 1.75l-1.5 1.75l-1.5-1.75z"/><path d="M319 337.64l1.5 1.75l-1.5 1.75l-1.5-1.75z"/><path d="M320.7 337.64l1.5 1.75l-1.5 1.75l-1.5-1.75z"/><path d="M342.5 337.64l1.5 1.75l-1.5 1.75l-1.5-1.75z"/><path d="M308 345.43l1.5 1.75l-1.5 1.75l-1.5-1.75z"/><path d="M309.9 345.43l1.5 1.75l-1.5 1.75l-1.5-1.75z"/><path d="M314.9 345.43l1.5 1.75l-1.5 1.75l-1.5-1.75z"/><path d="M332.6 345.43l1.5 1.75l-1.5 1.75l-1.5-1.75z"/><path d="M338.7 345.43l1.5 1.75l-1.5 1.75l-1.5-1.75z"/><path d="M310.4 353.22l1.5 1.75l-1.5 1.75l-1.5-1.75z"/><path d="M328 353.22l1.5 1.75l-1.5 1.75l-1.5-1.75z"/><path d="M335.4 353.22l1.5 1.75l-1.5 1.75l-1.5-1.75z"/><path d="M337 353.22l1.5 1.75l-1.5 1.75l-1.5-1.75z"/><path d="M339.2 353.22l1.5 1.75l-1.5 1.75l-1.5-1.75z"/><path d="M341.6 353.22l1.5 1.75l-1.5 1.75l-1.5-1.75z"/><path d="M347.4 353.22l1.5 1.75l-1.5 1.75l-1.5-1.75z"/><path d="M329.3 361.01l1.5 1.75l-1.5 1.75l-1.5-1.75z"/><path d="M330.5 361.01l1.5 1.75l-1.5 1.75l-1.5-1.75z"/><path d="M346.5 361.01l1.5 1.75l-1.5 1.75l-1.5-1.75z"/><path d="M348.2 361.01l1.5 1.75l-1.5 1.75l-1.5-1.75z"/><path d="M305.5 368.8l1.5 1.75l-1.5 1.75l-1.5-1.75z"/><path d="M332.6 368.8l1.5 1.75l-1.5 1.75l-1.5-1.75z"/><path d="M346.2 368.8l1.5 1.75l-1.5 1.75l-1.5-1.75z"/><path d="M346.2 376.59l1.5 1.75l-1.5 1.75l-1.5-1.75z"/><path d="M308 384.38l1.5 1.75l-1.5 1.75l-1.5-1.75z"/><path d="M346.2 384.38l1.5 1.75l-1.5 1.75l-1.5-1.75z"/><path d="M322.7 392.17l1.5 1.75l-1.5 1.75l-1.5-1.75z"/><path d="M332.9 392.17l1.5 1.75l-1.5 1.75l-1.5-1.75z"/><path d="M343.6 392.17l1.5 1.75l-1.5 1.75l-1.5-1.75z"/><path d="M319.5 399.96l1.5 1.75l-1.5 1.75l-1.5-1.75z"/></g>
<g class="mo"><circle cx="464" cy="238.75" r="1.25"/><circle cx="466.1" cy="238.75" r="1.25"/><circle cx="468.2" cy="238.75" r="1.25"/><circle cx="470" cy="238.75" r="1.25"/><circle cx="471.7" cy="238.75" r="1.25"/><circle cx="473.8" cy="238.75" r="1.25"/><circle cx="478.7" cy="238.75" r="1.25"/><circle cx="480.8" cy="238.75" r="1.25"/><circle cx="482.7" cy="238.75" r="1.25"/><circle cx="484.6" cy="238.75" r="1.25"/><circle cx="489.7" cy="238.75" r="1.25"/><circle cx="491.4" cy="238.75" r="1.25"/><circle cx="493.5" cy="238.75" r="1.25"/><circle cx="494.9" cy="238.75" r="1.25"/><circle cx="496.7" cy="238.75" r="1.25"/><circle cx="498.4" cy="238.75" r="1.25"/><circle cx="500.5" cy="238.75" r="1.25"/><circle cx="502.4" cy="238.75" r="1.25"/><circle cx="463.3" cy="252.3" r="1.25"/><circle cx="470.3" cy="252.3" r="1.25"/><circle cx="472.4" cy="252.3" r="1.25"/><circle cx="474.2" cy="252.3" r="1.25"/><circle cx="475.9" cy="252.3" r="1.25"/><circle cx="478" cy="252.3" r="1.25"/><circle cx="480.1" cy="252.3" r="1.25"/><circle cx="487.2" cy="252.3" r="1.25"/><circle cx="488.6" cy="252.3" r="1.25"/><circle cx="490" cy="252.3" r="1.25"/><circle cx="496.3" cy="252.3" r="1.25"/><circle cx="497.7" cy="252.3" r="1.25"/><circle cx="501.2" cy="252.3" r="1.25"/><circle cx="505.4" cy="252.3" r="1.25"/><circle cx="462.1" cy="265.85" r="1.25"/><circle cx="475.6" cy="265.85" r="1.25"/><circle cx="480.8" cy="265.85" r="1.25"/><circle cx="482" cy="265.85" r="1.25"/><circle cx="486" cy="265.85" r="1.25"/><circle cx="490" cy="265.85" r="1.25"/><circle cx="500.2" cy="265.85" r="1.25"/><circle cx="473.4" cy="279.4" r="1.25"/><circle cx="480.6" cy="279.4" r="1.25"/><circle cx="481.5" cy="279.4" r="1.25"/><circle cx="485.8" cy="279.4" r="1.25"/><circle cx="492.1" cy="279.4" r="1.25"/><circle cx="493.5" cy="279.4" r="1.25"/><circle cx="503.8" cy="279.4" r="1.25"/><circle cx="461" cy="292.95" r="1.25"/><circle cx="463.2" cy="292.95" r="1.25"/><circle cx="465.1" cy="292.95" r="1.25"/><circle cx="467.1" cy="292.95" r="1.25"/><circle cx="469.2" cy="292.95" r="1.25"/><circle cx="471.4" cy="292.95" r="1.25"/><circle cx="487.3" cy="292.95" r="1.25"/><circle cx="506.2" cy="292.95" r="1.25"/><circle cx="471.7" cy="306.5" r="1.25"/><circle cx="474.2" cy="306.5" r="1.25"/><circle cx="500.9" cy="306.5" r="1.25"/><circle cx="502.4" cy="306.5" r="1.25"/><circle cx="475.8" cy="320.05" r="1.25"/><circle cx="479.1" cy="320.05" r="1.25"/><circle cx="493.9" cy="320.05" r="1.25"/><circle cx="461.4" cy="333.6" r="1.25"/><circle cx="475.3" cy="333.6" r="1.25"/><circle cx="465.1" cy="347.15" r="1.25"/><circle cx="479.9" cy="347.15" r="1.25"/></g>
<g class="ms"><rect x="577.45" y="237.4" width="2.5" height="2.7"/><rect x="587.35" y="237.4" width="2.5" height="2.7"/><rect x="589.55" y="237.4" width="2.5" height="2.7"/><rect x="591.95" y="237.4" width="2.5" height="2.7"/><rect x="594.05" y="237.4" width="2.5" height="2.7"/><rect x="596.15" y="237.4" width="2.5" height="2.7"/><rect x="601.35" y="237.4" width="2.5" height="2.7"/><rect x="608.15" y="237.4" width="2.5" height="2.7"/><rect x="609.85" y="237.4" width="2.5" height="2.7"/><rect x="614.05" y="237.4" width="2.5" height="2.7"/><rect x="617.65" y="237.4" width="2.5" height="2.7"/><rect x="577.45" y="250.95" width="2.5" height="2.7"/><rect x="579.25" y="250.95" width="2.5" height="2.7"/><rect x="581.15" y="250.95" width="2.5" height="2.7"/><rect x="582.85" y="250.95" width="2.5" height="2.7"/><rect x="584.95" y="250.95" width="2.5" height="2.7"/><rect x="586.75" y="250.95" width="2.5" height="2.7"/><rect x="593.75" y="250.95" width="2.5" height="2.7"/><rect x="601.05" y="250.95" width="2.5" height="2.7"/><rect x="610.65" y="250.95" width="2.5" height="2.7"/><rect x="617.65" y="250.95" width="2.5" height="2.7"/><rect x="619.35" y="250.95" width="2.5" height="2.7"/><rect x="623.85" y="250.95" width="2.5" height="2.7"/><rect x="578.35" y="264.5" width="2.5" height="2.7"/><rect x="580.25" y="264.5" width="2.5" height="2.7"/><rect x="582.15" y="264.5" width="2.5" height="2.7"/><rect x="587.75" y="264.5" width="2.5" height="2.7"/><rect x="592.65" y="264.5" width="2.5" height="2.7"/><rect x="594.05" y="264.5" width="2.5" height="2.7"/><rect x="598.05" y="264.5" width="2.5" height="2.7"/><rect x="600.85" y="264.5" width="2.5" height="2.7"/><rect x="602.25" y="264.5" width="2.5" height="2.7"/><rect x="603.95" y="264.5" width="2.5" height="2.7"/><rect x="605.55" y="264.5" width="2.5" height="2.7"/><rect x="610.25" y="264.5" width="2.5" height="2.7"/><rect x="614.45" y="264.5" width="2.5" height="2.7"/><rect x="622.45" y="264.5" width="2.5" height="2.7"/><rect x="578.55" y="278.05" width="2.5" height="2.7"/><rect x="580.75" y="278.05" width="2.5" height="2.7"/><rect x="589.55" y="278.05" width="2.5" height="2.7"/><rect x="591.55" y="278.05" width="2.5" height="2.7"/><rect x="593.35" y="278.05" width="2.5" height="2.7"/><rect x="597.35" y="278.05" width="2.5" height="2.7"/><rect x="602.55" y="278.05" width="2.5" height="2.7"/><rect x="604.65" y="278.05" width="2.5" height="2.7"/><rect x="606.45" y="278.05" width="2.5" height="2.7"/><rect x="617.25" y="278.05" width="2.5" height="2.7"/><rect x="619.35" y="278.05" width="2.5" height="2.7"/><rect x="621.05" y="278.05" width="2.5" height="2.7"/><rect x="601.35" y="291.6" width="2.5" height="2.7"/><rect x="603.15" y="291.6" width="2.5" height="2.7"/><rect x="614.55" y="291.6" width="2.5" height="2.7"/><rect x="615.75" y="291.6" width="2.5" height="2.7"/><rect x="617.35" y="291.6" width="2.5" height="2.7"/><rect x="619.35" y="291.6" width="2.5" height="2.7"/><rect x="577.45" y="305.15" width="2.5" height="2.7"/><rect x="578.75" y="305.15" width="2.5" height="2.7"/><rect x="582.35" y="305.15" width="2.5" height="2.7"/><rect x="587.75" y="305.15" width="2.5" height="2.7"/><rect x="589.05" y="305.15" width="2.5" height="2.7"/><rect x="590.75" y="305.15" width="2.5" height="2.7"/><rect x="591.95" y="305.15" width="2.5" height="2.7"/><rect x="600.95" y="305.15" width="2.5" height="2.7"/><rect x="614.55" y="305.15" width="2.5" height="2.7"/><rect x="620.65" y="305.15" width="2.5" height="2.7"/><rect x="588.15" y="318.7" width="2.5" height="2.7"/><rect x="601.35" y="318.7" width="2.5" height="2.7"/><rect x="602.25" y="318.7" width="2.5" height="2.7"/><rect x="610.05" y="318.7" width="2.5" height="2.7"/><rect x="611.25" y="318.7" width="2.5" height="2.7"/><rect x="583.25" y="332.25" width="2.5" height="2.7"/><rect x="592.35" y="332.25" width="2.5" height="2.7"/><rect x="593.65" y="332.25" width="2.5" height="2.7"/><rect x="612.95" y="345.8" width="2.5" height="2.7"/><rect x="615.45" y="359.35" width="2.5" height="2.7"/></g>
<g class="md"><path d="M699 237l1.5 1.75l-1.5 1.75l-1.5-1.75z"/><path d="M702.1 237l1.5 1.75l-1.5 1.75l-1.5-1.75z"/><path d="M705.2 237l1.5 1.75l-1.5 1.75l-1.5-1.75z"/><path d="M719.2 237l1.5 1.75l-1.5 1.75l-1.5-1.75z"/><path d="M725.7 237l1.5 1.75l-1.5 1.75l-1.5-1.75z"/><path d="M730.9 237l1.5 1.75l-1.5 1.75l-1.5-1.75z"/><path d="M732.7 237l1.5 1.75l-1.5 1.75l-1.5-1.75z"/><path d="M734.4 237l1.5 1.75l-1.5 1.75l-1.5-1.75z"/><path d="M736.5 237l1.5 1.75l-1.5 1.75l-1.5-1.75z"/><path d="M740.7 237l1.5 1.75l-1.5 1.75l-1.5-1.75z"/><path d="M697.6 250.55l1.5 1.75l-1.5 1.75l-1.5-1.75z"/><path d="M700.9 250.55l1.5 1.75l-1.5 1.75l-1.5-1.75z"/><path d="M707.4 250.55l1.5 1.75l-1.5 1.75l-1.5-1.75z"/><path d="M710.5 250.55l1.5 1.75l-1.5 1.75l-1.5-1.75z"/><path d="M720.1 250.55l1.5 1.75l-1.5 1.75l-1.5-1.75z"/><path d="M721.8 250.55l1.5 1.75l-1.5 1.75l-1.5-1.75z"/><path d="M723.2 250.55l1.5 1.75l-1.5 1.75l-1.5-1.75z"/><path d="M728.1 250.55l1.5 1.75l-1.5 1.75l-1.5-1.75z"/><path d="M729.5 250.55l1.5 1.75l-1.5 1.75l-1.5-1.75z"/><path d="M735.1 250.55l1.5 1.75l-1.5 1.75l-1.5-1.75z"/><path d="M737.9 250.55l1.5 1.75l-1.5 1.75l-1.5-1.75z"/><path d="M696.7 264.1l1.5 1.75l-1.5 1.75l-1.5-1.75z"/><path d="M700.7 264.1l1.5 1.75l-1.5 1.75l-1.5-1.75z"/><path d="M712.6 264.1l1.5 1.75l-1.5 1.75l-1.5-1.75z"/><path d="M727.4 264.1l1.5 1.75l-1.5 1.75l-1.5-1.75z"/><path d="M728.8 264.1l1.5 1.75l-1.5 1.75l-1.5-1.75z"/><path d="M697.1 277.65l1.5 1.75l-1.5 1.75l-1.5-1.75z"/><path d="M699 277.65l1.5 1.75l-1.5 1.75l-1.5-1.75z"/><path d="M703.8 277.65l1.5 1.75l-1.5 1.75l-1.5-1.75z"/><path d="M711.2 277.65l1.5 1.75l-1.5 1.75l-1.5-1.75z"/><path d="M712.6 277.65l1.5 1.75l-1.5 1.75l-1.5-1.75z"/><path d="M714.4 277.65l1.5 1.75l-1.5 1.75l-1.5-1.75z"/><path d="M716.1 277.65l1.5 1.75l-1.5 1.75l-1.5-1.75z"/><path d="M731.6 277.65l1.5 1.75l-1.5 1.75l-1.5-1.75z"/><path d="M733.3 277.65l1.5 1.75l-1.5 1.75l-1.5-1.75z"/><path d="M737.5 277.65l1.5 1.75l-1.5 1.75l-1.5-1.75z"/><path d="M699.1 291.2l1.5 1.75l-1.5 1.75l-1.5-1.75z"/><path d="M706.2 291.2l1.5 1.75l-1.5 1.75l-1.5-1.75z"/><path d="M714.6 291.2l1.5 1.75l-1.5 1.75l-1.5-1.75z"/><path d="M716.4 291.2l1.5 1.75l-1.5 1.75l-1.5-1.75z"/><path d="M720.2 291.2l1.5 1.75l-1.5 1.75l-1.5-1.75z"/><path d="M726.3 291.2l1.5 1.75l-1.5 1.75l-1.5-1.75z"/><path d="M730 291.2l1.5 1.75l-1.5 1.75l-1.5-1.75z"/><path d="M731 291.2l1.5 1.75l-1.5 1.75l-1.5-1.75z"/><path d="M734.3 291.2l1.5 1.75l-1.5 1.75l-1.5-1.75z"/><path d="M740.3 291.2l1.5 1.75l-1.5 1.75l-1.5-1.75z"/><path d="M699.4 304.75l1.5 1.75l-1.5 1.75l-1.5-1.75z"/><path d="M724.4 304.75l1.5 1.75l-1.5 1.75l-1.5-1.75z"/><path d="M737.8 304.75l1.5 1.75l-1.5 1.75l-1.5-1.75z"/><path d="M723.3 318.3l1.5 1.75l-1.5 1.75l-1.5-1.75z"/><path d="M724.7 331.85l1.5 1.75l-1.5 1.75l-1.5-1.75z"/><path d="M732.4 331.85l1.5 1.75l-1.5 1.75l-1.5-1.75z"/><path d="M703.1 345.4l1.5 1.75l-1.5 1.75l-1.5-1.75z"/><path d="M740.1 345.4l1.5 1.75l-1.5 1.75l-1.5-1.75z"/><path d="M740.7 358.95l1.5 1.75l-1.5 1.75l-1.5-1.75z"/><path d="M734.5 399.6l1.5 1.75l-1.5 1.75l-1.5-1.75z"/></g>
<text class="cl" transform="translate(88.15 202.9) scale(0.94 1)">OA</text>
<text class="cl" transform="translate(206.7 202.8) scale(0.97 1)">FOG-</text>
<text class="cl" transform="translate(329.15 202.4) scale(0.97 1)">FOG+</text>
<text class="cl" transform="translate(484.65 202.8) scale(0.94 1)">OA</text>
<text class="cl" transform="translate(605.7 202.4) scale(0.97 1)">FOG-</text>
<text class="cl" transform="translate(724.75 202.3) scale(0.97 1)">FOG+</text>
<text class="cl" transform="translate(88.15 425.9) scale(0.94 1)">OA</text>
<text class="cl" transform="translate(206.9 426.5) scale(0.97 1)">FOG-</text>
<text class="cl" transform="translate(329.2 426.4) scale(0.97 1)">FOG+</text>
<text class="cl" transform="translate(483.6 426) scale(0.94 1)">OA</text>
<text class="cl" transform="translate(605.8 426.5) scale(0.97 1)">FOG-</text>
<text class="cl" transform="translate(724.85 426) scale(0.97 1)">FOG+</text>
<text class="yt" style="font-size:10.5px" transform="translate(8.5 94) rotate(-90)" x="0" y="0">SCOPA-cog</text>
<text class="yt" style="font-size:10.85px" transform="translate(404.6 91.4) rotate(-90)" x="0" y="0">TMT B-A (seconds)</text>
<text class="yt" style="font-size:11.0px" transform="translate(8.9 321.7) rotate(-90)" x="0" y="0">Dot Counting (no. errors)</text>
<text class="yt" style="font-size:11.2px" transform="translate(404.8 319.9) rotate(-90)" x="0" y="0">JoLO</text>
<text class="pl" x="0.5" y="9.3">a</text>
<text class="pl" x="395.3" y="9.5">b</text>
<text class="pl" x="0.2" y="231.8">c</text>
<text class="pl" x="394.9" y="231.8">d</text>
</svg>
</body></html>
